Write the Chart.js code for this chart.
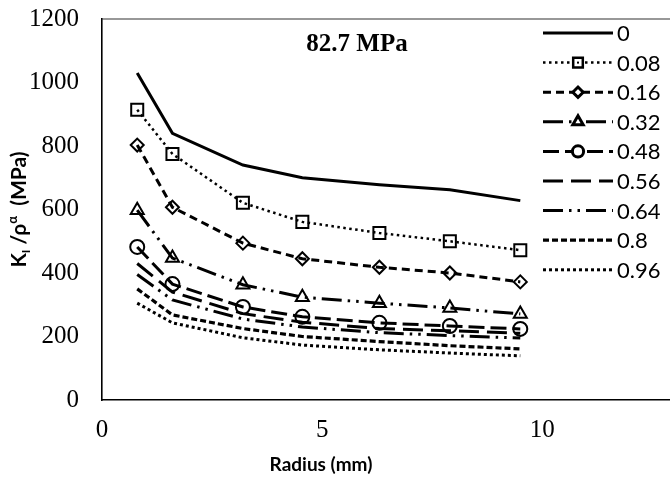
<!DOCTYPE html>
<html>
<head>
<meta charset="utf-8">
<script src="https://cdn.jsdelivr.net/npm/chart.js@4"></script>
<style>
  html, body { margin: 0; padding: 0; background: #fff; }
</style>
</head>
<body>
<canvas id="myChart" width="670" height="481"></canvas>
<script>
// radius (mm) of each point
const radius = [0.8, 1.6, 3.2, 4.55, 6.3, 7.9, 9.5];

// K_I / rho^alpha (MPa) for each alpha
const alpha0   = [1030, 840, 740, 700, 678, 662, 628];
const alpha008 = [914, 775, 621, 561, 526, 500, 472];
const alpha016 = [803, 607, 494, 445, 418, 400, 372];
const alpha032 = [598, 447, 363, 324, 305, 290, 271];
const alpha048 = [482, 365, 293, 262, 243, 233, 224];
const alpha056 = [430, 340, 272, 245, 225, 218, 210];
const alpha064 = [395, 315, 255, 230, 212, 203, 195];
const alpha080 = [350, 268, 225, 200, 184, 171, 161];
const alpha096 = [305, 243, 196, 173, 158, 148, 139];

const seriesNames = ["0", "0.08", "0.16", "0.32", "0.48", "0.56", "0.64", "0.8", "0.96"];
const yTicks = [0, 200, 400, 600, 800, 1000, 1200];
const xTicks = [0, 5, 10];

const toPoints = (vals) => vals.map((v, i) => ({ x: radius[i], y: v }));

// line look for each series: dash, width, marker
const styles = [
    { dash: [], width: 3, point: false },
    { dash: [2.5, 3.5], width: 2.5, point: "rect", r: 8.5 },
    { dash: [8, 5], width: 3, point: "rectRot", r: 6.5 },
    { dash: [20, 6, 2.5, 6, 2.5, 6], width: 3, point: "triangle", r: 7.5 },
    { dash: [16, 6], width: 3, point: "circle", r: 7 },
    { dash: [20, 8], width: 3, point: false },
    { dash: [20, 6, 2.5, 6, 2.5, 6], width: 3, point: false },
    { dash: [6, 3], width: 3.2, point: false },
    { dash: [3, 3], width: 3, point: false },
];

const allValues = [alpha0, alpha008, alpha016, alpha032, alpha048, alpha056, alpha064, alpha080, alpha096];

const datasets = allValues.map((vals, i) => {
    const st = styles[i];
    return {
        label: seriesNames[i],
        data: toPoints(vals),
        showLine: true,
        borderColor: "#000",
        borderWidth: st.width,
        borderDash: st.dash,
        tension: 0,
        pointStyle: st.point || "circle",
        pointRadius: st.point ? st.r : 0,
        pointBorderWidth: 2,
        pointBorderColor: "#000",
        pointBackgroundColor: "rgba(0,0,0,0)",
        fill: false,
    };
});

// legend, titles, top frame line
const decorPlugin = {
    id: "decor",
    afterDraw(chart) {
        const ctx = chart.ctx;
        const area = chart.chartArea;
        ctx.save();

        // top frame
        ctx.strokeStyle = "#333";
        ctx.lineWidth = 1.2;
        ctx.setLineDash([]);
        ctx.beginPath();
        ctx.moveTo(area.left, area.top);
        ctx.lineTo(chart.width, area.top);
        ctx.stroke();

        // chart title
        ctx.fillStyle = "#000";
        ctx.font = "bold 25px 'Liberation Serif'";
        ctx.textAlign = "center";
        ctx.textBaseline = "middle";
        ctx.fillText("82.7 MPa", 357, 45);

        // legend
        ctx.font = "22px Lato";
        ctx.textAlign = "left";
        chart.data.datasets.forEach((ds, i) => {
            const y = 33 + i * 29.6;
            const st = styles[i];
            ctx.strokeStyle = "#000";
            ctx.lineWidth = st.width;
            ctx.setLineDash(st.dash);
            ctx.beginPath();
            ctx.moveTo(543, y);
            ctx.lineTo(613, y);
            ctx.stroke();
            ctx.setLineDash([]);
            if (st.point) {
                ctx.fillStyle = "#fff";
                Chart.helpers.drawPoint(ctx, {
                    pointStyle: st.point,
                    radius: st.r * 0.8,
                    rotation: 0,
                    borderWidth: 1.6,
                }, 578, y);
            }
            ctx.fillStyle = "#000";
            if (st.point === "rect") ctx.fillRect(577, y - 1, 2, 2);
            ctx.fillText(ds.label, 617, y + 1);
        });

        // x axis title
        ctx.font = "bold 19px Lato";
        ctx.textAlign = "center";
        ctx.fillText("Radius (mm)", 321, 465);

        // y axis title with sub/superscript, centred on the plot
        const parts = [
            ["K", 21, 0], ["I", 12, 4], [" /\u03C1", 21, 0], ["\u03B1", 13, -9], ["  (MPa)", 21, 0],
        ];
        let total = 0;
        parts.forEach(([t, s]) => { ctx.font = "bold " + s + "px Lato"; total += ctx.measureText(t).width; });
        ctx.translate(19, (area.top + area.bottom) / 2 + total / 2);
        ctx.rotate(-Math.PI / 2);
        ctx.textAlign = "left";
        ctx.textBaseline = "alphabetic";
        let x = 0;
        parts.forEach(([t, s, dy]) => {
            ctx.font = "bold " + s + "px Lato";
            ctx.fillText(t, x, 7 + dy);
            x += ctx.measureText(t).width;
        });

        ctx.restore();
    },
};

const ctx = document.getElementById("myChart").getContext("2d");
const myChart = new Chart(ctx, {
    type: "scatter",
    data: { datasets },
    options: {
        responsive: false,
        animation: false,
        layout: { autoPadding: false, padding: { top: 19, right: 0, left: 0, bottom: 0 } },
        plugins: {
            legend: { display: false },
            tooltip: { enabled: false },
        },
        scales: {
            x: {
                type: "linear",
                min: 0,
                max: 12.9,
                afterFit: (s) => { s.height = 81; s.paddingLeft = 0; s.paddingRight = 0; },
                afterBuildTicks: (s) => { s.ticks = xTicks.map((v) => ({ value: v })); },
                ticks: {
                    color: "#000",
                    font: { family: "'Liberation Serif'", size: 25 },
                    padding: 15,
                    maxRotation: 0,
                    callback: (v) => String(v),
                },
                grid: { display: false, drawTicks: false },
                border: { color: "#000", width: 1.6 },
            },
            y: {
                min: 0,
                max: 1200,
                afterFit: (s) => { s.width = 102; s.paddingTop = 0; s.paddingBottom = 0; },
                afterBuildTicks: (s) => { s.ticks = yTicks.map((v) => ({ value: v })); },
                ticks: {
                    color: "#000",
                    font: { family: "'Liberation Serif'", size: 25 },
                    padding: 23,
                    callback: (v) => String(v),
                },
                grid: { display: false, drawTicks: false },
                border: { color: "#000", width: 1.6 },
            },
        },
    },
    plugins: [decorPlugin],
});
</script>
</body>
</html>
